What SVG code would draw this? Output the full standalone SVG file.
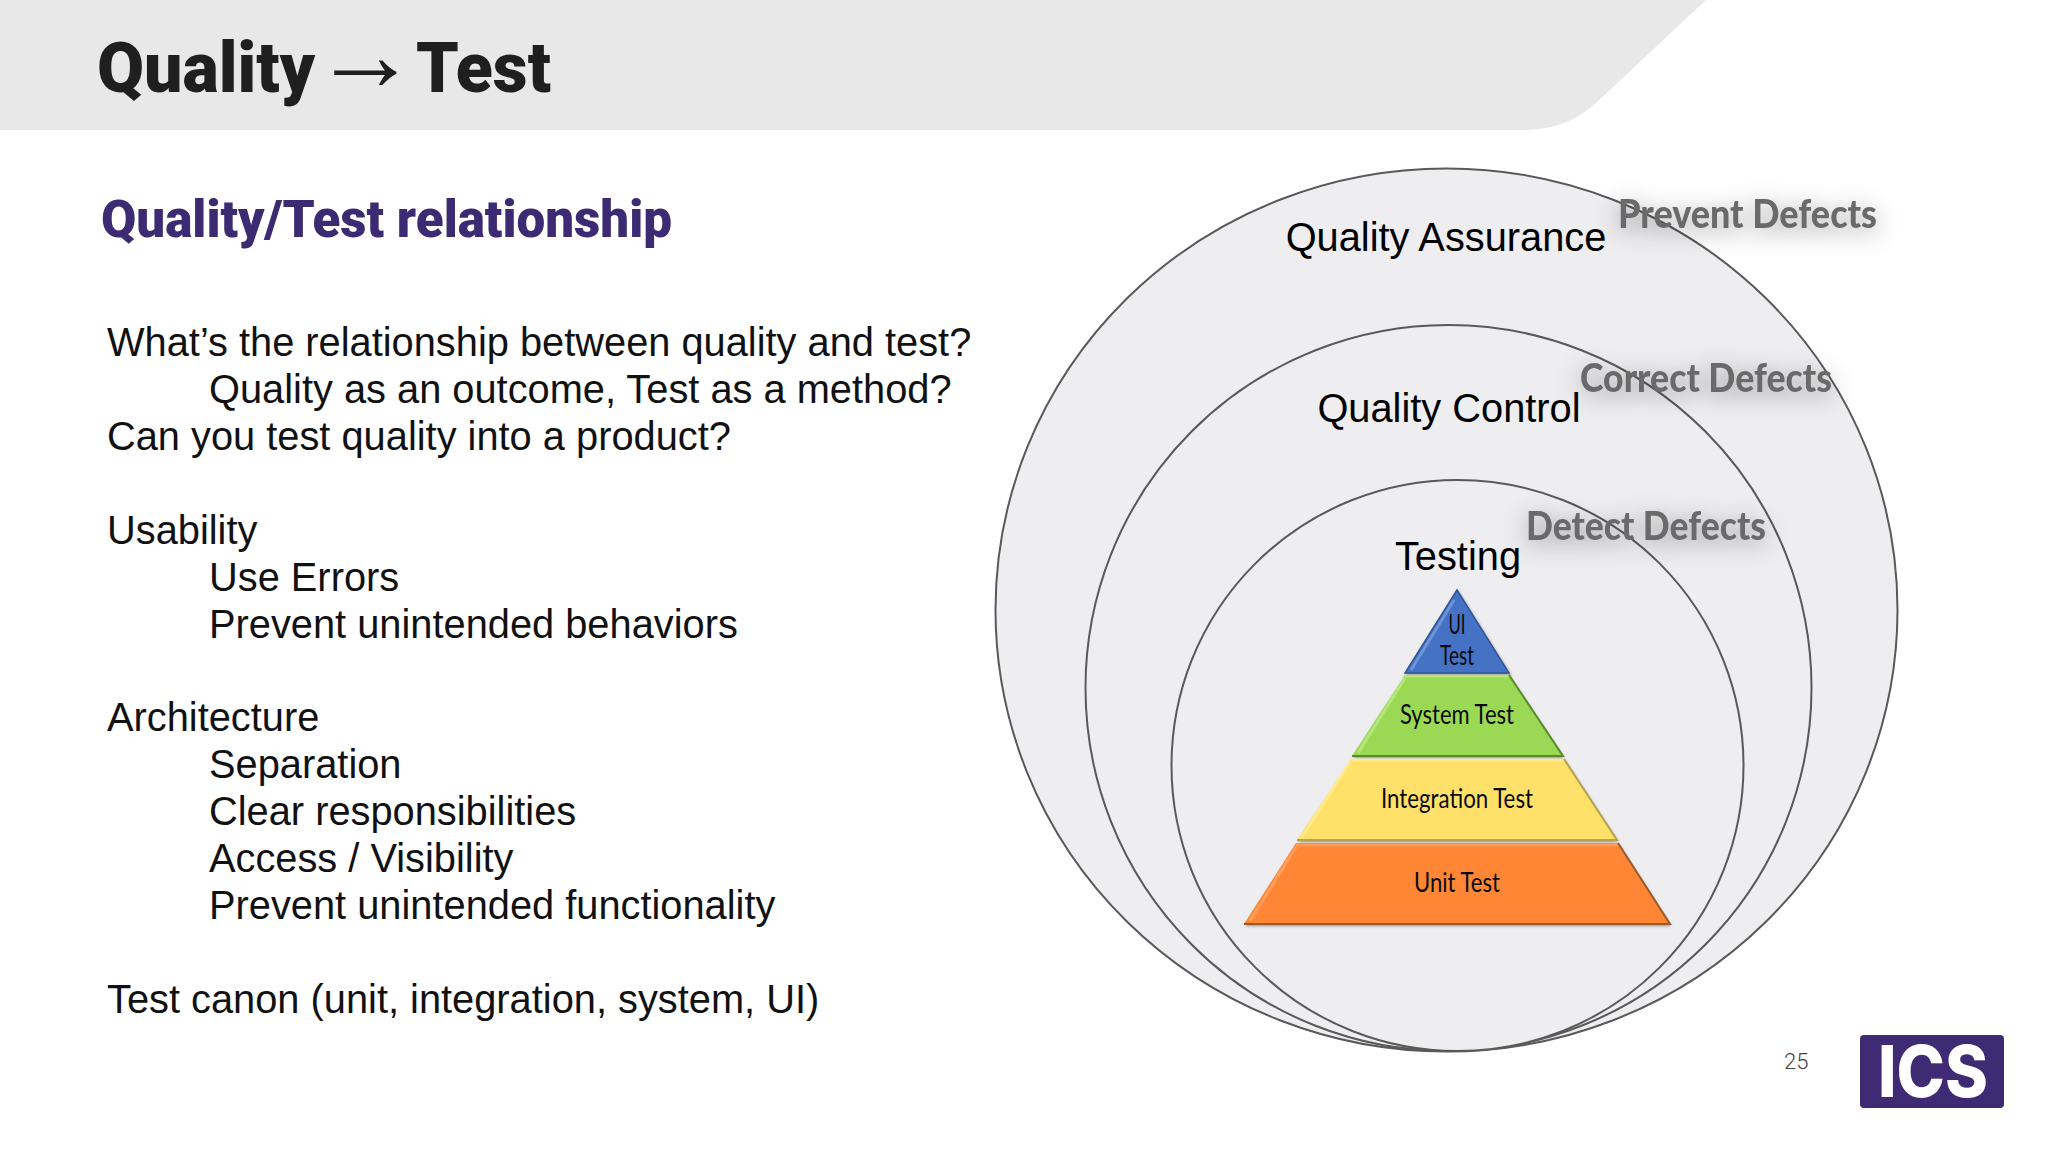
<svg xmlns="http://www.w3.org/2000/svg" width="2048" height="1152" viewBox="0 0 2048 1152">
<style>
.b{font-family:"Liberation Sans",Arial,sans-serif;font-size:39.8px;fill:#111}
.c{font-family:"Liberation Sans",Arial,sans-serif;font-size:39.8px;fill:#000;text-anchor:middle}
.d{font-family:Lato,"Noto Sans",sans-serif;font-weight:900;font-size:39px;fill:#6a6a6a;filter:url(#s)}
.p{font-family:Lato,"Noto Sans",sans-serif;font-size:26px;fill:#0a0a0a;text-anchor:middle}
.o{fill:#eeedf0;stroke:#595959;stroke-width:2}
.hi{fill:none;stroke-width:3;stroke-opacity:.55}
</style>
<defs>
<filter id="s" x="-20%" y="-100%" width="140%" height="300%"><feDropShadow dx="0" dy="5" stdDeviation="12" flood-color="#000" flood-opacity=".4"/></filter>
<filter id="ps" x="-5%" y="-5%" width="110%" height="110%"><feDropShadow dx="1" dy="2" stdDeviation="1.5" flood-color="#000" flood-opacity=".4"/></filter>
</defs>
<rect width="2048" height="1152" fill="#fff"/>
<g id="header">
<path d="M0 0H1706L1596 103Q1566 130 1525 130H0Z" fill="#e8e8e8"/>
<text x="97" y="92" font-family="Roboto,sans-serif" font-weight="900" font-size="71px" fill="#1f1f1f" textLength="218" lengthAdjust="spacingAndGlyphs">Quality</text>
<text x="313" y="90" font-family="'Liberation Serif',serif" font-size="105px" fill="#1f1f1f">→</text>
<text x="416" y="92" font-family="Roboto,sans-serif" font-weight="900" font-size="71px" fill="#1f1f1f" textLength="135" lengthAdjust="spacingAndGlyphs">Test</text>
</g>
<text id="subtitle" x="101" y="237" font-family="Roboto,sans-serif" font-weight="900" font-size="51px" fill="#3c2a72" textLength="571" lengthAdjust="spacingAndGlyphs">Quality/Test relationship</text>
<g id="body">
<text class="b" x="107" y="355.7">What’s the relationship between quality and test?</text>
<text class="b" x="209" y="402.7">Quality as an outcome, Test as a method?</text>
<text class="b" x="107" y="449.7">Can you test quality into a product?</text>
<text class="b" x="107" y="543.7">Usability</text>
<text class="b" x="209" y="590.7">Use Errors</text>
<text class="b" x="209" y="637.7">Prevent unintended behaviors</text>
<text class="b" x="107" y="730.7">Architecture</text>
<text class="b" x="209" y="777.7">Separation</text>
<text class="b" x="209" y="824.7">Clear responsibilities</text>
<text class="b" x="209" y="871.7">Access / Visibility</text>
<text class="b" x="209" y="918.7">Prevent unintended functionality</text>
<text class="b" x="107" y="1012.7">Test canon (unit, integration, system, UI)</text>
</g>
<g id="qa"><ellipse class="o" cx="1446.5" cy="610" rx="451" ry="441.5"/>
<text class="c" x="1446" y="250.7">Quality Assurance</text></g>
<g id="qc"><ellipse class="o" cx="1448.5" cy="688" rx="363" ry="363"/>
<text class="c" x="1449" y="421.7">Quality Control</text></g>
<g id="testing"><ellipse class="o" cx="1457.5" cy="765.5" rx="286" ry="285.5"/>
<text class="c" x="1458" y="570">Testing</text></g>
<g id="label-prevent"><text class="d" x="1618" y="228" textLength="259" lengthAdjust="spacingAndGlyphs">Prevent Defects</text></g>
<g id="label-correct"><text class="d" x="1580" y="392" textLength="252" lengthAdjust="spacingAndGlyphs">Correct Defects</text></g>
<g id="label-detect"><text class="d" x="1526" y="540" textLength="240" lengthAdjust="spacingAndGlyphs">Detect Defects</text></g>
<g id="ui-test"><polygon points="1457,590 1509,673 1405,673" fill="#4472c4" stroke="#2f5597" stroke-width="1.5" filter="url(#ps)"/>
<path class="hi" stroke="#8fb0ea" d="M1454 600L1411 670"/>
<text class="p" x="1457" y="634" textLength="17" lengthAdjust="spacingAndGlyphs">UI</text><text class="p" x="1457" y="665" textLength="34" lengthAdjust="spacingAndGlyphs">Test</text></g>
<g id="system-test"><polygon points="1405,675 1509,675 1563,756 1352,756" fill="#9bd955" filter="url(#ps)"/>
<path class="hi" stroke="#c8f09a" d="M1405 678L1358 753M1405 676H1509"/>
<path d="M1352 756H1563L1509 675" fill="none" stroke="#5b8a2e" stroke-width="2"/>
<text class="p" x="1457" y="724" textLength="114" lengthAdjust="spacingAndGlyphs">System Test</text></g>
<g id="integration-test"><polygon points="1351,759 1564,759 1617,840 1297,840" fill="#ffe169" filter="url(#ps)"/>
<path class="hi" stroke="#fff3a8" d="M1350 762L1302 837M1351 760H1564"/>
<path d="M1297 840H1617L1564 759" fill="none" stroke="#b5a24e" stroke-width="2"/>
<text class="p" x="1457" y="808" textLength="152" lengthAdjust="spacingAndGlyphs">Integration Test</text></g>
<g id="unit-test"><polygon points="1296,843 1618,843 1670,924 1244,924" fill="#ff8635" filter="url(#ps)"/>
<path class="hi" stroke="#ffb07a" d="M1296 847L1250 921M1296 845H1618"/>
<path d="M1244 924H1670L1618 843" fill="none" stroke="#9a5a2a" stroke-width="2"/>
<text class="p" x="1457" y="892" textLength="86" lengthAdjust="spacingAndGlyphs">Unit Test</text></g>
<text id="page" x="1784" y="1069" font-family="Roboto,sans-serif" font-weight="300" font-size="22px" fill="#444">25</text>
<g id="logo"><rect x="1860" y="1035" width="144" height="73" rx="4" fill="#3f2a74"/>
<text x="1878" y="1097" font-family="Inter,sans-serif" font-weight="800" font-size="71px" fill="#fff" textLength="110" lengthAdjust="spacingAndGlyphs">ICS</text></g>
</svg>
